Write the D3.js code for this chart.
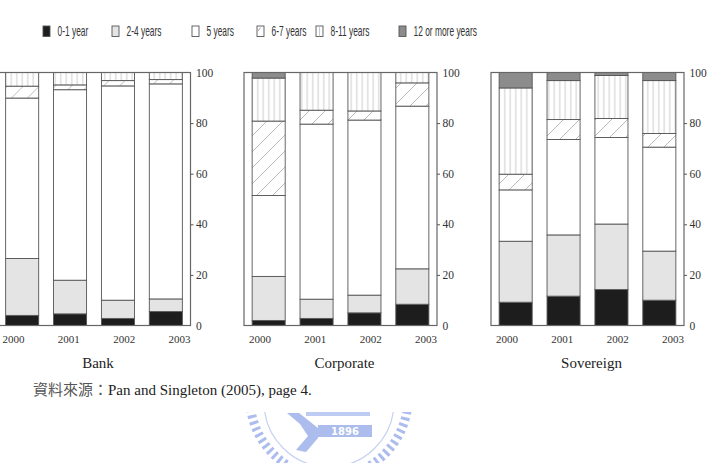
<!DOCTYPE html>
<html>
<head>
<meta charset="utf-8">
<script src="https://cdn.jsdelivr.net/npm/d3@7"></script>
<style>
  body { margin: 0; background: #fff; }
  svg { display: block; }
</style>
</head>
<body>
<div id="chart"></div>
<script>
// categories and years
var years = ["2000", "2001", "2002", "2003"];
var maturities = ["0-1 year", "2-4 years", "5 years", "6-7 years", "8-11 years", "12 or more years"];
var sectors = ["Bank", "Corporate", "Sovereign"];

// shares (%) per year, in the order of maturities
var bankShares = [
  [4.0, 22.5, 63.4, 4.7, 5.4, 0],
  [4.6, 13.3, 75.3, 1.9, 4.9, 0],
  [2.8, 7.2, 84.7, 2.1, 3.2, 0],
  [5.5, 5.0, 85.0, 1.7, 2.8, 0]
];
var corporateShares = [
  [2.0, 17.4, 32.0, 29.4, 17.0, 2.2],
  [2.8, 7.6, 69.2, 5.5, 14.9, 0],
  [5.0, 7.0, 69.2, 3.6, 15.2, 0],
  [8.4, 14.0, 64.3, 9.2, 4.1, 0]
];
var sovereignShares = [
  [9.2, 24.1, 20.3, 6.2, 34.1, 6.1],
  [11.6, 24.2, 37.7, 7.9, 15.4, 3.2],
  [14.2, 25.9, 34.2, 7.5, 17.0, 1.2],
  [10.0, 19.4, 41.1, 5.4, 20.9, 3.2]
];
var yTicks = [0, 20, 40, 60, 80, 100];

var width = 708, height = 463;
var panelLefts = [-2.5, 244, 491], panelWidth = 193;
var plotTop = 72.5, plotBottom = 325.5;
var legendX = [43, 112, 192, 257, 316, 399];

var svg = d3.select("#chart").append("svg")
  .attr("width", width)
  .attr("height", height);

var defs = svg.append("defs");

// diagonal hatch for 6-7 years
var diag = defs.append("pattern")
  .attr("id", "diag")
  .attr("patternUnits", "userSpaceOnUse")
  .attr("width", 16).attr("height", 16);
diag.append("rect").attr("width", 16).attr("height", 16).attr("fill", "#fff");
[[0, 16, 16, 0], [-4, 4, 4, -4], [12, 20, 20, 12]].forEach(function(l) {
  diag.append("line")
    .attr("x1", l[0]).attr("y1", l[1]).attr("x2", l[2]).attr("y2", l[3])
    .attr("stroke", "#a8a8a8").attr("stroke-width", 0.8);
});

// vertical lines for 8-11 years
var vert = defs.append("pattern")
  .attr("id", "vert")
  .attr("patternUnits", "userSpaceOnUse")
  .attr("width", 5.5).attr("height", 10);
vert.append("rect").attr("width", 5.5).attr("height", 10).attr("fill", "#fff");
vert.append("line")
  .attr("x1", 2.75).attr("x2", 2.75).attr("y1", 0).attr("y2", 10)
  .attr("stroke", "#b4b4b4").attr("stroke-width", 0.7);

var fills = {
  "0-1 year": "#1d1d1d",
  "2-4 years": "#e4e4e4",
  "5 years": "#ffffff",
  "6-7 years": "url(#diag)",
  "8-11 years": "url(#vert)",
  "12 or more years": "#8c8c8c"
};

var y = d3.scaleLinear()
  .domain([0, 100])
  .range([plotBottom, plotTop]);

var x = d3.scaleBand()
  .domain(years)
  .range([0, panelWidth])
  .paddingInner(0.31)
  .paddingOuter(0.17);

var xLabel = d3.scalePoint()
  .domain(years)
  .range([16, 182]);

var stack = d3.stack().keys(maturities);

var allShares = [bankShares, corporateShares, sovereignShares];

sectors.forEach(function(name, i) {
  var rows = years.map(function(yr, j) {
    var r = {year: yr};
    maturities.forEach(function(m, k) { r[m] = allShares[i][j][k]; });
    return r;
  });
  var series = stack(rows);

  var g = svg.append("g")
    .attr("transform", "translate(" + panelLefts[i] + ",0)");

  // stacked bars
  g.selectAll("g.series")
    .data(series)
    .enter()
    .append("g")
      .attr("class", "series")
      .attr("fill", function(d) { return fills[d.key]; })
    .selectAll("rect")
    .data(function(d) { return d.filter(function(p) { return p[1] - p[0] > 0; }); })
    .enter()
    .append("rect")
      .attr("x", function(d) { return x(d.data.year); })
      .attr("y", function(d) { return y(d[1]); })
      .attr("width", x.bandwidth())
      .attr("height", function(d) { return y(d[0]) - y(d[1]); })
      .attr("stroke", "#555")
      .attr("stroke-width", 0.9);

  // frame
  g.append("rect")
    .attr("x", 0).attr("y", plotTop)
    .attr("width", panelWidth).attr("height", plotBottom - plotTop)
    .attr("fill", "none")
    .attr("stroke", "#666")
    .attr("stroke-width", 1.2);

  // right axis
  var ax = g.append("g")
    .attr("transform", "translate(" + panelWidth + ",0)")
    .call(d3.axisRight(y).tickValues(yTicks).tickSize(3).tickPadding(2.5));
  ax.select(".domain").remove();
  ax.attr("font-family", "'Liberation Serif', 'Times New Roman', serif");
  ax.selectAll(".tick line")
    .attr("stroke", "#555")
    .attr("opacity", function(d) { return d === 0 || d === 100 ? 0 : 1; });
  ax.selectAll(".tick text")
    .attr("fill", "#333")
    .style("font-family", "'Liberation Serif', 'Times New Roman', serif")
    .style("font-size", "11.5px");

  // year labels
  g.selectAll("text.year")
    .data(years)
    .enter()
    .append("text")
      .attr("class", "year")
      .attr("x", function(d) { return xLabel(d); })
      .attr("y", 343)
      .attr("text-anchor", "middle")
      .attr("fill", "#333")
      .style("font-family", "'Liberation Serif', 'Times New Roman', serif")
      .style("font-size", "11px")
      .text(function(d) { return d; });

  // panel title
  g.append("text")
    .attr("x", panelWidth / 2 + 4)
    .attr("y", 368)
    .attr("text-anchor", "middle")
    .attr("fill", "#222")
    .style("font-family", "'Liberation Serif', 'Times New Roman', serif")
    .style("font-size", "15px")
    .text(name);
});

// legend
var legend = svg.append("g");
maturities.forEach(function(m, i) {
  var lx = legendX[i];
  legend.append("rect")
    .attr("x", lx).attr("y", 26)
    .attr("width", 7).attr("height", 10.5)
    .attr("fill", m === "6-7 years" || m === "8-11 years" ? "#fff" : fills[m])
    .attr("stroke", "#555")
    .attr("stroke-width", 0.9);
  if (m === "6-7 years") {
    legend.append("line")
      .attr("x1", lx + 1).attr("y1", 31).attr("x2", lx + 3.5).attr("y2", 27.5)
      .attr("stroke", "#888").attr("stroke-width", 0.8);
  }
  if (m === "8-11 years") {
    legend.append("line")
      .attr("x1", lx + 3.5).attr("y1", 26).attr("x2", lx + 3.5).attr("y2", 36.5)
      .attr("stroke", "#bbb").attr("stroke-width", 0.8);
  }
  legend.append("text")
    .attr("transform", "translate(" + (lx + 14.5) + ",36) scale(0.6,1)")
    .attr("fill", "#333")
    .style("font-family", "'Liberation Sans', Arial, sans-serif")
    .style("font-size", "14px")
    .text(m);
});

// source note
var note = svg.append("text")
  .attr("x", 33)
  .attr("y", 395)
  .attr("fill", "#222")
  .style("font-size", "15px");
note.append("tspan")
  .style("font-family", "'Noto Sans CJK TC', sans-serif")
  .attr("fill", "#555")
  .text("資料來源：");
note.append("tspan")
  .style("font-family", "'Liberation Serif', 'Times New Roman', serif")
  .text("Pan and Singleton (2005), page 4.");

// faint watermark at the bottom
defs.append("clipPath").attr("id", "wmclip")
  .append("rect").attr("x", 0).attr("y", 412).attr("width", width).attr("height", 60);
var wm = svg.append("g")
  .attr("clip-path", "url(#wmclip)")
  .attr("opacity", 0.75);
wm.append("circle")
  .attr("cx", 329).attr("cy", 398).attr("r", 79)
  .attr("fill", "none")
  .attr("stroke", "#8fa6e8")
  .attr("stroke-width", 9)
  .attr("stroke-dasharray", "3 3.5");
wm.append("circle")
  .attr("cx", 329).attr("cy", 402).attr("r", 65)
  .attr("fill", "none")
  .attr("stroke", "#b4c3f0")
  .attr("stroke-width", 1.2);
wm.append("rect")
  .attr("x", 306).attr("y", 412).attr("width", 64).attr("height", 4)
  .attr("fill", "#a9baee");
wm.append("polygon")
  .attr("points", "287,413 299,413 318,428 318,438 306,452 296,450 308,436 300,424")
  .attr("fill", "#8fa6e8");
wm.append("rect")
  .attr("x", 318).attr("y", 425).attr("width", 54).attr("height", 12)
  .attr("fill", "#8fa6e8");
wm.append("text")
  .attr("x", 345).attr("y", 435)
  .attr("text-anchor", "middle")
  .attr("fill", "#fff")
  .style("font-family", "'DejaVu Sans', sans-serif")
  .style("font-weight", "bold")
  .style("font-size", "10px")
  .text("1896");
</script>
</body>
</html>
